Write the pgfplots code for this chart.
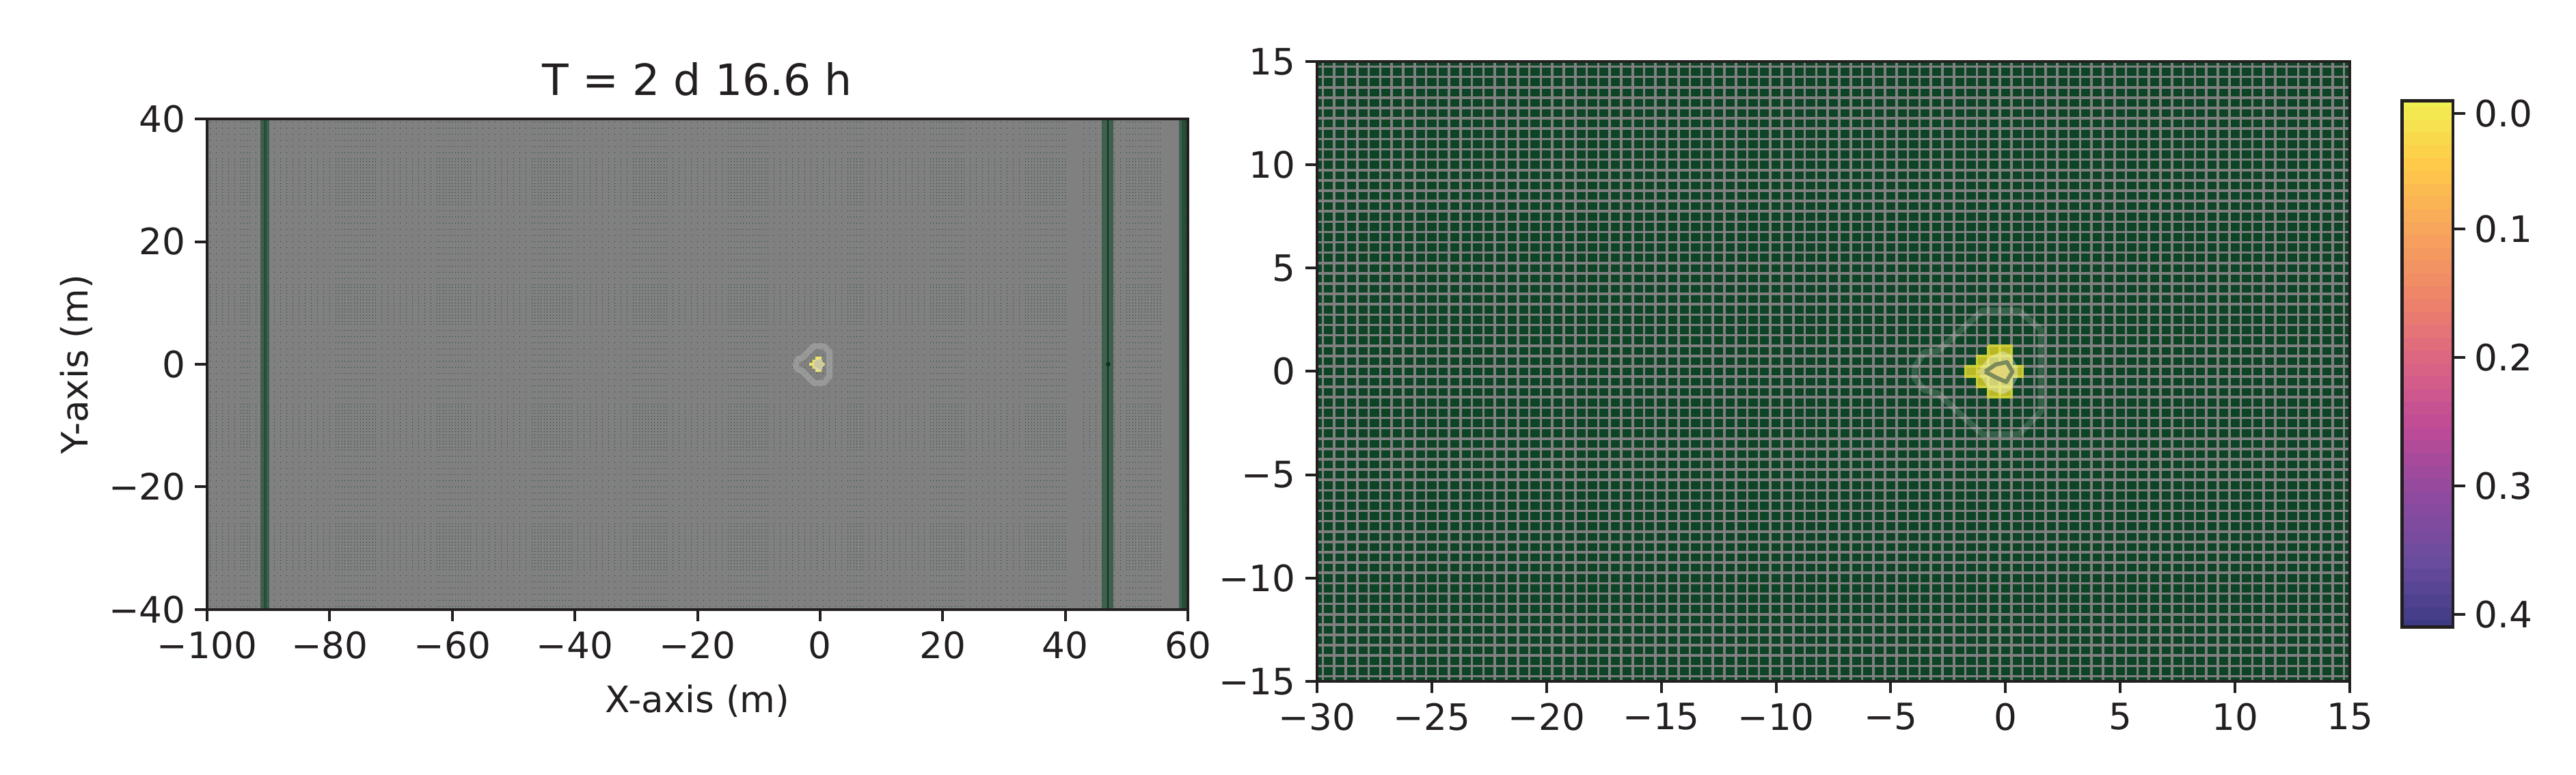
\documentclass[border=0pt]{standalone}
\usepackage{pgfplots}
\usepackage{pgfplotstable}
\usepackage{fontspec}
\setmainfont{DejaVu Sans}
\pgfplotsset{compat=1.18}
\definecolor{ink}{HTML}{231F20}
\definecolor{meshgreen}{HTML}{0D4426}
\definecolor{meshgrey}{HTML}{808080}
\definecolor{cellL}{RGB}{240,230,92}
\definecolor{haloL}{RGB}{224,219,178}
\definecolor{bandL}{RGB}{205,200,160}
\definecolor{coreL}{RGB}{214,210,175}
\definecolor{cellR}{RGB}{185,185,40}
\definecolor{edgeR}{RGB}{205,205,60}
\definecolor{lineR}{RGB}{215,215,58}
\definecolor{bandR}{RGB}{124,138,92}
\definecolor{coreR}{RGB}{225,215,120}

% contour polygons (m)
\pgfplotstableread{
x y
-3.96 0.21
-3.54 0.93
-2.95 0.98
-1.01 2.94
0.58 2.94
1.54 2.03
1.54 -1.94
0.58 -3.04
-1.01 -3.04
-2.95 -1.06
-3.54 -0.89
-3.96 -0.34
-3.96 0.21
}\outercontour
\pgfplotstableread{
x y
-1.23 -0.01
-0.71 0.70
-0.12 0.98
0.23 0.82
0.53 0.21
0.53 -0.29
0.23 -0.89
-0.12 -1.11
-0.71 -0.89
-1.23 -0.01
}\halo
\pgfplotstableread{
x y
-0.89 -0.01
-0.42 0.34
0.06 0.45
0.30 -0.01
0.03 -0.51
-0.42 -0.29
-0.89 -0.01
}\innercontour
% wet cells of the 0.5 m mesh
\pgfplotstableread{
x y
-0.75 1.25
0.25 1.25
0.25 0.25
0.75 0.25
0.75 -0.25
0.25 -0.25
0.25 -1.25
-0.75 -1.25
-0.75 -0.75
-1.25 -0.75
-1.25 -0.25
-1.75 -0.25
-1.75 0.25
-1.25 0.25
-1.25 0.75
-0.75 0.75
-0.75 1.25
}\cells

\pgfplotsset{
  every axis/.append style={
    scale only axis,
    anchor=south west,
    tick label style={font=\fontsize{13.3}{16}\selectfont, text=ink},
    label style={font=\fontsize{13.3}{16}\selectfont, text=ink},
    title style={font=\fontsize{15.8}{19}\selectfont, text=ink},
    axis line style={ink, line width=1.1pt},
    tick style={ink, line width=1pt},
    major tick length=4.375pt,
    tick align=outside,
    xtick pos=bottom, ytick pos=left,
  },
  meshaxis/.style={
    axis background/.style={fill=meshgreen},
    axis line style={draw=none},
    tick style={draw=none},
    xticklabels={}, yticklabels={},
    grid=major,
    major grid style={meshgrey, line width=0.9pt},
  },
}

\begin{document}
\begin{tikzpicture}
\path[use as bounding box] (0,0) rectangle (942.25pt,283.5pt);

% left panel: mesh and data
\begin{axis}[
  meshaxis,
  at={(75.75pt,60.5pt)}, width=358.75pt, height=179.5pt,
  xmin=-100, xmax=60, ymin=-40, ymax=40,
  xtick={-99.75,-99.25,...,59.8},
  ytick={-39.75,-39.25,...,39.8},
  major grid style={meshgrey, line width=0.95pt},
]
  \addplot[meshgrey, line width=1.1pt, unbounded coords=jump] coordinates {
    (0,-40)(0,40)(nan,nan)(1,-40)(1,40)(nan,nan)(2,-40)(2,40)(nan,nan)
    (3,-40)(3,40)(nan,nan)(4,-40)(4,40)(nan,nan)
    (41,-40)(41,40)(nan,nan)(42,-40)(42,40)(nan,nan)
    (-92.5,-40)(-92.5,40)(nan,nan)(-91.5,-40)(-91.5,40)(nan,nan)(-90.5,-40)(-90.5,40)(nan,nan)
    (-89.5,-40)(-89.5,40)(nan,nan)(-88.5,-40)(-88.5,40)(nan,nan)
    (56.5,-40)(56.5,40)(nan,nan)(57.5,-40)(57.5,40)(nan,nan)(58.5,-40)(58.5,40)(nan,nan)
    (-100,4)(60,4)(nan,nan)(-100,3)(60,3)(nan,nan)(-100,2)(60,2)(nan,nan)
    (-100,1)(60,1)(nan,nan)(-100,0)(60,0)(nan,nan)(-100,-1)(60,-1)(nan,nan)
    (-100,39)(60,39)(nan,nan)(-100,38)(60,38)(nan,nan)(-100,37)(60,37)
  };
  % dark columns
  \addplot[draw=none, fill=meshgreen, fill opacity=0.55] coordinates {(-91.3,-40)(-89.9,-40)(-89.9,40)(-91.3,40)};
  \addplot[draw=none, fill=meshgreen, fill opacity=0.55] coordinates {(-90.8,-40)(-90.3,-40)(-90.3,40)(-90.8,40)};
  \addplot[draw=none, fill=meshgreen, fill opacity=0.55] coordinates {(46.0,-40)(47.9,-40)(47.9,40)(46.0,40)};
  \addplot[meshgreen!80!black, line width=0.5pt] coordinates {(46.9,-40)(46.9,40)};
  \addplot[draw=none, fill=meshgreen, fill opacity=0.55] coordinates {(58.5,-40)(60,-40)(60,40)(58.5,40)};
  \addplot[draw=none, fill=meshgreen, fill opacity=0.55] coordinates {(59.0,-40)(60,-40)(60,40)(59.0,40)};
  \addplot[only marks, mark=*, mark size=0.6pt, meshgreen!70!black] coordinates {(47,0)};
  % wet cells and contours
  \addplot[draw=white, draw opacity=0.2, line width=2.25pt, line join=round] table {\outercontour};
  \addplot[draw=none, fill=cellL] table {\cells};
  \addplot[draw=none, fill=haloL] table {\halo};
  \addplot[bandL, line width=1.5pt, line join=round, fill=coreL] table {\innercontour};
\end{axis}

% left panel: frame, ticks and labels
\begin{axis}[
  at={(75.75pt,60.5pt)}, width=358.75pt, height=179.5pt,
  xmin=-100, xmax=60, ymin=-40, ymax=40,
  xtick={-100,-80,-60,-40,-20,0,20,40,60},
  xticklabels={−100,−80,−60,−40,−20,0,20,40,60},
  ytick={-40,-20,0,20,40},
  yticklabels={−40,−20,0,20,40},
  title={T = 2 d 16.6 h},
  title style={yshift=-1.1pt},
  xlabel={X-axis (m)},
  ylabel={Y-axis (m)},
  xlabel style={yshift=-2.8pt},
  ylabel style={yshift=-0.9pt},
]
\end{axis}

% right panel: mesh and data
\begin{axis}[
  meshaxis,
  at={(481.75pt,34.25pt)}, width=377.75pt, height=226.75pt,
  xmin=-30, xmax=15, ymin=-15, ymax=15,
  xtick={-29.75,-29.25,...,14.8},
  ytick={-14.75,-14.25,...,14.8},
]
  \addplot[draw=edgeR, line width=0.9pt, fill=cellR] table {\cells};
  \addplot[lineR, line width=0.9pt, unbounded coords=jump] coordinates {
    (-0.25,-1.25)(-0.25,1.25)(nan,nan)(-0.75,-0.75)(-0.75,0.75)(nan,nan)
    (-1.25,-0.25)(-1.25,0.25)(nan,nan)(0.25,-0.25)(0.25,0.25)(nan,nan)
    (-0.75,0.75)(0.25,0.75)(nan,nan)(-1.25,0.25)(0.25,0.25)(nan,nan)
    (-1.25,-0.25)(0.25,-0.25)(nan,nan)(-0.75,-0.75)(0.25,-0.75)
  };
  \addplot[draw=none, fill=white, fill opacity=0.35] table {\halo};
  \addplot[draw=white, draw opacity=0.16, line width=2.25pt, line join=round] table {\outercontour};
  \addplot[bandR, line width=1.5pt, line join=round, fill=coreR] table {\innercontour};
\end{axis}

% right panel: frame and ticks
\begin{axis}[
  at={(481.75pt,34.25pt)}, width=377.75pt, height=226.75pt,
  xmin=-30, xmax=15, ymin=-15, ymax=15,
  xtick={-30,-25,-20,-15,-10,-5,0,5,10,15},
  xticklabels={−30,−25,−20,−15,−10,−5,0,5,10,15},
  ytick={-15,-10,-5,0,5,10,15},
  yticklabels={−15,−10,−5,0,5,10,15},
]
\end{axis}

% colour bar
\begin{axis}[
  at={(878.625pt,54.125pt)}, width=18.625pt, height=192.5pt,
  xmin=-0.5, xmax=1.5, ymin=0, ymax=0.41,
  y dir=reverse,
  xtick=\empty,
  ytick={0.01,0.1,0.2,0.3,0.4},
  yticklabels={0.0,0.1,0.2,0.3,0.4},
  ytick pos=right,
  axis on top,
  colormap={depth}{rgb255=(240,240,80) rgb255=(255,201,74) rgb255=(247,164,92) rgb255=(238,132,105)
    rgb255=(219,100,132) rgb255=(190,74,152) rgb255=(143,74,158) rgb255=(106,76,158) rgb255=(62,58,132)},
  point meta min=0, point meta max=0.41,
]
  \addplot[matrix plot*, mesh/cols=2, point meta=y] table {
x y
0 0.00
1 0.00
0 0.01
1 0.01
0 0.02
1 0.02
0 0.03
1 0.03
0 0.04
1 0.04
0 0.05
1 0.05
0 0.06
1 0.06
0 0.07
1 0.07
0 0.08
1 0.08
0 0.09
1 0.09
0 0.10
1 0.10
0 0.11
1 0.11
0 0.12
1 0.12
0 0.13
1 0.13
0 0.14
1 0.14
0 0.15
1 0.15
0 0.16
1 0.16
0 0.17
1 0.17
0 0.18
1 0.18
0 0.19
1 0.19
0 0.20
1 0.20
0 0.21
1 0.21
0 0.22
1 0.22
0 0.23
1 0.23
0 0.24
1 0.24
0 0.25
1 0.25
0 0.26
1 0.26
0 0.27
1 0.27
0 0.28
1 0.28
0 0.29
1 0.29
0 0.30
1 0.30
0 0.31
1 0.31
0 0.32
1 0.32
0 0.33
1 0.33
0 0.34
1 0.34
0 0.35
1 0.35
0 0.36
1 0.36
0 0.37
1 0.37
0 0.38
1 0.38
0 0.39
1 0.39
0 0.40
1 0.40
0 0.41
1 0.41
  };
\end{axis}
\end{tikzpicture}
\end{document}
